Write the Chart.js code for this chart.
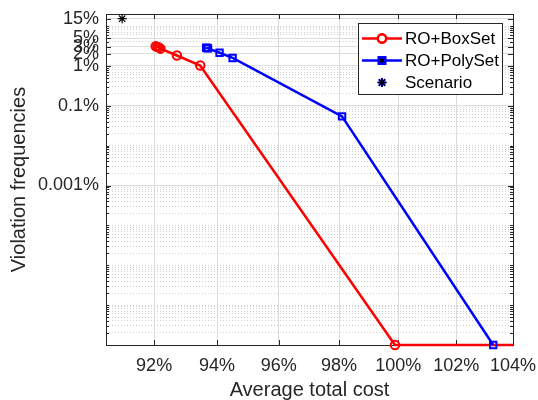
<!DOCTYPE html>
<html><head><meta charset="utf-8">
<script src="https://cdn.jsdelivr.net/npm/chart.js@4.4.0/dist/chart.umd.min.js"></script>
<style>html,body{margin:0;padding:0;background:#fff}#wrap{width:538px;height:400px}</style>
</head><body><div id="wrap"><canvas id="c" width="538" height="400"></canvas></div>
<script>
// ---- data ----
const boxCost  = [0.9205, 0.9210, 0.9215, 0.9220, 0.9272, 0.9346, 0.9989, 1.0600];
const boxViol  = [0.031, 0.030, 0.029, 0.027, 0.0182, 0.0102, 1e-9, 1e-9];
const polyCost = [0.9365, 0.9368, 0.9371, 0.9408, 0.9450, 0.9810, 1.0330];
const polyViol = [0.0285, 0.0280, 0.0275, 0.0213, 0.0158, 0.00054, 1e-9];
const scenCost = [0.910];
const scenViol = [0.153];
const xTicks = [0.92, 0.94, 0.96, 0.98, 1.00, 1.02, 1.04];
const yMajorTicks = [1e-5, 0.001, 0.01, 0.02, 0.03, 0.05, 0.15];
const seriesNames = ['RO+BoxSet', 'RO+PolySet', 'Scenario'];

const X_MIN = 0.905, X_MAX = 1.04, Y_MIN = 1e-9, Y_MAX = 0.2;
const AX = '#262626';
const FONT = "'Liberation Sans', Arial, Helvetica, sans-serif";

function isMajorY(v){ return yMajorTicks.some(m => Math.abs(v/m - 1) < 1e-6); }
const yAllTicks = (() => {
  const s = yMajorTicks.slice();
  for (let k = -9; k <= -1; k++) for (let m = 1; m <= 9; m++) {
    const v = m * Math.pow(10, k);
    if (v <= Y_MAX * 1.0001 && !isMajorY(v)) s.push(v);
  }
  return s.sort((a,b)=>a-b);
})();
function pct(v){
  const p = v * 100;
  if (p >= 1) return Math.round(p) + '%';
  return parseFloat(p.toPrecision(3)) + '%';
}

const frame = {
  id: 'frame',
  beforeDatasetsDraw(chart){
    const {ctx, chartArea:a, scales:{x, y}} = chart;
    ctx.save();
    ctx.strokeStyle = AX; ctx.lineWidth = 1;
    ctx.beginPath();
    y.ticks.forEach(t => {
      const p = Math.round(y.getPixelForValue(t.value)) + 0.5;
      const L = isMajorY(t.value) ? 5 : 3;
      ctx.moveTo(a.left, p); ctx.lineTo(a.left + L, p);
      ctx.moveTo(a.right, p); ctx.lineTo(a.right - L, p);
    });
    x.ticks.forEach(t => {
      const p = Math.round(x.getPixelForValue(t.value)) + 0.5;
      ctx.moveTo(p, a.bottom); ctx.lineTo(p, a.bottom - 5);
      ctx.moveTo(p, a.top); ctx.lineTo(p, a.top + 5);
    });
    ctx.stroke();
    ctx.strokeRect(Math.round(a.left)+0.5, Math.round(a.top)+0.5, Math.round(a.right-a.left), Math.round(a.bottom-a.top));
    ctx.restore();
  },
  afterDraw(chart){
    const {ctx} = chart;
    const ds = chart.data.datasets;
    const bx = 358.5, by = 23.5, bw = 144, bh = 71;
    ctx.save();
    ctx.fillStyle = '#fff'; ctx.fillRect(bx, by, bw, bh);
    ctx.strokeStyle = AX; ctx.lineWidth = 1; ctx.strokeRect(bx, by, bw, bh);
    const rows = [38.5, 60.5, 82.5];
    const order = [1, 0, 2]; // box, poly, scenario dataset indices
    rows.forEach((ry, i) => {
      const d = ds[order[i]];
      if (d.showLine !== false) {
        ctx.strokeStyle = d.borderColor; ctx.lineWidth = d.borderWidth;
        ctx.beginPath(); ctx.moveTo(362, ry); ctx.lineTo(402, ry); ctx.stroke();
      }
      Chart.helpers.drawPoint(ctx, {pointStyle: d.pointStyle, radius: d.pointRadius, borderWidth: d.pointBorderWidth}, 382, ry);
      ctx.strokeStyle = d.pointBorderColor; ctx.lineWidth = d.pointBorderWidth;
      ctx.stroke();
      ctx.fillStyle = '#000';
      ctx.font = '17px ' + FONT; ctx.textAlign = 'left'; ctx.textBaseline = 'middle';
      ctx.fillText(d.label, 405, ry + 1);
    });
    ctx.restore();
  }
};

const toPts = (xs, ys) => xs.map((v, i) => ({x: v, y: ys[i]}));

new Chart(document.getElementById('c'), {
  type: 'line',
  data: {
    datasets: [
      { label: seriesNames[1], data: toPts(polyCost, polyViol), order: 1,
        borderColor: '#0000ff', borderWidth: 2.5, pointStyle: 'rect', pointRadius: 4.5,
        pointBorderColor: '#0000ff', pointBackgroundColor: 'rgba(0,0,0,0)', pointBorderWidth: 2,
        fill: false, tension: 0, clip: {left: 6, top: 6, right: 0, bottom: 6} },
      { label: seriesNames[0], data: toPts(boxCost, boxViol), order: 2,
        borderColor: '#ff0000', borderWidth: 2.5, pointStyle: 'circle', pointRadius: 4.2,
        pointBorderColor: '#ff0000', pointBackgroundColor: 'rgba(0,0,0,0)', pointBorderWidth: 2,
        fill: false, tension: 0, clip: {left: 6, top: 6, right: 0, bottom: 6} },
      { label: seriesNames[2], data: toPts(scenCost, scenViol), order: 0, showLine: false,
        borderColor: '#000', borderWidth: 1, pointStyle: 'star', pointRadius: 4.5,
        pointBorderColor: '#000', pointBackgroundColor: '#000', pointBorderWidth: 1.2 }
    ]
  },
  options: {
    responsive: false, animation: false, devicePixelRatio: 1,
    layout: { padding: { left: 0, right: 25, top: 14, bottom: 0 } },
    plugins: { legend: { display: false }, tooltip: { enabled: false } },
    scales: {
      x: {
        type: 'logarithmic', min: X_MIN, max: X_MAX,
        afterBuildTicks: s => { s.ticks = xTicks.map(v => ({value: v})); },
        afterFit: s => { s.height = 55; s.paddingLeft = 0; s.paddingRight = 0; },
        ticks: { autoSkip: false, maxRotation: 0, padding: 10, color: AX,
          font: { family: FONT, size: 18 }, callback: v => pct(v) },
        grid: { drawTicks: false, color: '#dcdcdc', lineWidth: 1 },
        border: { display: false },
        title: { display: true, text: 'Average total cost', color: AX,
          font: { family: FONT, size: 20, lineHeight: 1.0 }, padding: { top: 0, bottom: 0 } }
      },
      y: {
        type: 'logarithmic', min: Y_MIN, max: Y_MAX,
        afterBuildTicks: s => { s.ticks = yAllTicks.map(v => ({value: v})); },
        afterFit: s => { s.width = 106; s.paddingTop = 0; s.paddingBottom = 0; },
        ticks: { autoSkip: false, padding: 7, color: AX,
          font: { family: FONT, size: 18 }, callback: v => isMajorY(v) ? pct(v) : '' },
        grid: { drawTicks: false, lineWidth: 1,
          color: c => (c.tick && isMajorY(c.tick.value)) ? '#dcdcdc' : '#d0d0d0' },
        border: { display: false,
          dash: c => (c.type === 'tick' && c.tick && !isMajorY(c.tick.value)) ? [1, 2] : [] },
        title: { display: true, text: 'Violation frequencies', color: AX,
          font: { family: FONT, size: 20 }, padding: { top: 7, bottom: 0 } }
      }
    }
  },
  plugins: [frame]
});
</script></body></html>
